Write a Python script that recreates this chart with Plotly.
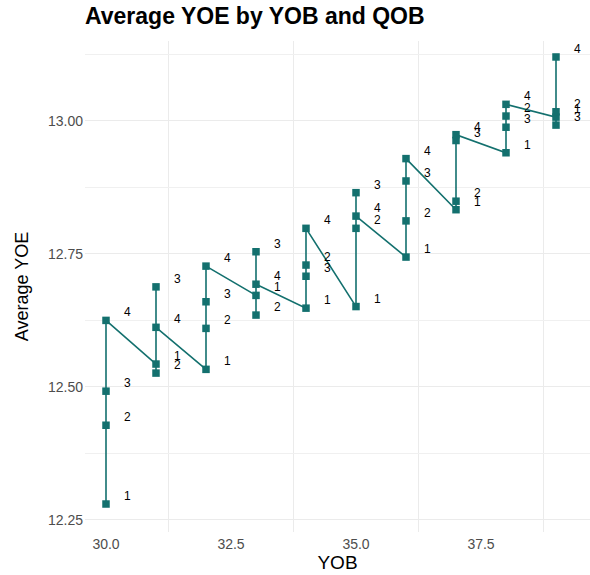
import plotly.graph_objects as go

years = [30, 31, 32, 33, 34, 35, 36, 37, 38, 39]
q1 = [12.280, 12.543, 12.533, 12.672, 12.648, 12.651, 12.744, 12.833, 12.940, 13.007]
q2 = [12.428, 12.526, 12.610, 12.635, 12.729, 12.798, 12.812, 12.849, 13.009, 13.017]
q3 = [12.492, 12.688, 12.660, 12.754, 12.708, 12.865, 12.887, 12.963, 12.988, 12.992]
q4 = [12.625, 12.612, 12.727, 12.693, 12.798, 12.821, 12.929, 12.974, 13.031, 13.120]
quarters = [1, 2, 3, 4]

xs, ys, qs = [], [], []
for i, yr in enumerate(years):
    for q, vals in zip(quarters, [q1, q2, q3, q4]):
        xs.append(yr)
        ys.append(vals[i])
        qs.append(q)

teal = "#13706E"
fig = go.Figure()
fig.add_trace(go.Scatter(
    x=xs, y=ys, mode="lines+markers",
    line=dict(color=teal, width=1.6),
    marker=dict(symbol="square", size=7.5, color=teal),
    hoverinfo="skip", showlegend=False,
))

annotations = []
for x, y, q in zip(xs, ys, qs):
    annotations.append(dict(
        x=x, y=y, text=str(q), showarrow=False, xanchor="left", yanchor="middle",
        xshift=16, yshift=8, font=dict(family="Liberation Sans, Arial", size=12, color="black"),
    ))

fig.update_layout(
    width=590, height=575,
    margin=dict(l=85, r=0, t=41, b=43),
    paper_bgcolor="white", plot_bgcolor="white",
    title=dict(text="<b>Average YOE by YOB and QOB</b>", x=85/590, xanchor="left",
               y=1 - 16/575, yanchor="middle",
               font=dict(family="Liberation Sans, Arial", size=23, color="black")),
    annotations=annotations,
    font=dict(family="Liberation Sans, Arial"),
)
fig.update_xaxes(
    range=[29.58, 39.68], tickvals=[30, 32.5, 35, 37.5], ticktext=["30.0", "32.5", "35.0", "37.5"],
    showgrid=False, zeroline=False, showline=False, ticks="",
    tickfont=dict(size=14, color="#4D4D4D"), ticklabelstandoff=2,
    title=dict(text="YOB", font=dict(size=19, color="black"), standoff=2),
    minor=dict(tick0=31.25, dtick=2.5, showgrid=True, gridcolor="#EBEBEB", gridwidth=1),
)
fig.update_yaxes(
    range=[12.2274, 13.150], tickvals=[12.25, 12.5, 12.75, 13.0],
    ticktext=["12.25", "12.50", "12.75", "13.00"],
    showgrid=True, gridcolor="#EBEBEB", gridwidth=1.4, zeroline=False, showline=False, ticks="",
    tickfont=dict(size=14, color="#4D4D4D"), ticklabelstandoff=1,
    title=dict(text="Average YOE", font=dict(size=18, color="black"), standoff=14),
    minor=dict(tick0=12.25, dtick=0.125, showgrid=True, gridcolor="#F0F0F0", gridwidth=1),
)
fig.write_html("out.html")
